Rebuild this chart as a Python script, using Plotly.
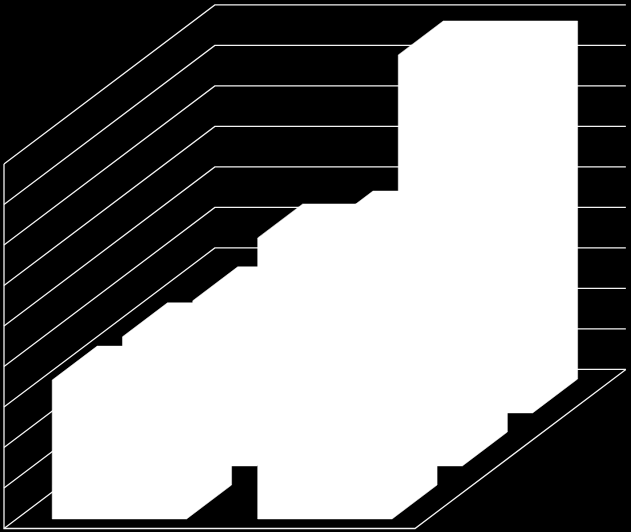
# Colonnes 3D noir et blanc, 3 series sur 2 categories

import plotly.graph_objects as go

#Data:
categories = [0, 1]
rows = [0, 1, 2]
serie_1 = [3.43, 6.94]
serie_2 = [3.19, 5.95]
serie_3 = [2.77, 8.84]
series = [serie_1, serie_2, serie_3]
ticks = [0, 1, 2, 3, 4, 5, 6, 7, 8, 9]

# Projection oblique: une rangee de profondeur decale x et y
SKEW_X = 0.342
SKEW_Y = 1.309
BAR_MARGIN = 0.173
ROW_MARGIN = 0.18

WIDTH = 631
HEIGHT = 532
PX_CAT = 205.5
PX_VAL = 40.5
ORIGIN_X = 4
ORIGIN_Y = 528.5

def project(cat, depth, value):
    return cat + depth * SKEW_X, value + depth * SKEW_Y

def addLine(fig, points):
    xs, ys = zip(*points)
    fig.add_trace(go.Scatter(x=xs, y=ys, mode="lines", hoverinfo="skip",
                             line=dict(color="#f2f2f2", width=1.3)))

def addBar(fig, cat, row, value):
    x0 = cat + BAR_MARGIN
    x1 = cat + 1 - BAR_MARGIN
    d0 = row + ROW_MARGIN
    d1 = row + 1 - ROW_MARGIN
    corners = [
        project(x0, d0, 0), project(x1, d0, 0), project(x1, d1, 0),
        project(x1, d1, value), project(x0, d1, value), project(x0, d0, value),
        project(x0, d0, 0),
    ]
    xs, ys = zip(*corners)
    fig.add_trace(go.Scatter(x=xs, y=ys, mode="lines", fill="toself", fillcolor="white",
                             hoverinfo="skip", line=dict(color="white", width=0.5)))

fig = go.Figure()

# Murs et sol
depth = len(rows)
right = len(categories)
for t in ticks:
    addLine(fig, [project(0, 0, t), project(0, depth, t), project(right, depth, t)])
addLine(fig, [project(0, 0, ticks[-1]), project(0, 0, 0), project(right, 0, 0), project(right, depth, 0)])

# Barres, du fond vers l'avant
for r in reversed(rows):
    for c in categories:
        addBar(fig, c, r, series[r][c])

fig.update_layout(
    width=WIDTH,
    height=HEIGHT,
    margin=dict(l=0, r=0, t=0, b=0),
    paper_bgcolor="black",
    plot_bgcolor="black",
    showlegend=False,
    xaxis=dict(visible=False, range=[-ORIGIN_X / PX_CAT, (WIDTH - ORIGIN_X) / PX_CAT]),
    yaxis=dict(visible=False, range=[(ORIGIN_Y - HEIGHT) / PX_VAL, ORIGIN_Y / PX_VAL]),
)

fig.write_html("out.html", config=dict(displayModeBar=False),
               post_script="document.body.style.margin='0';document.body.style.background='black';")
